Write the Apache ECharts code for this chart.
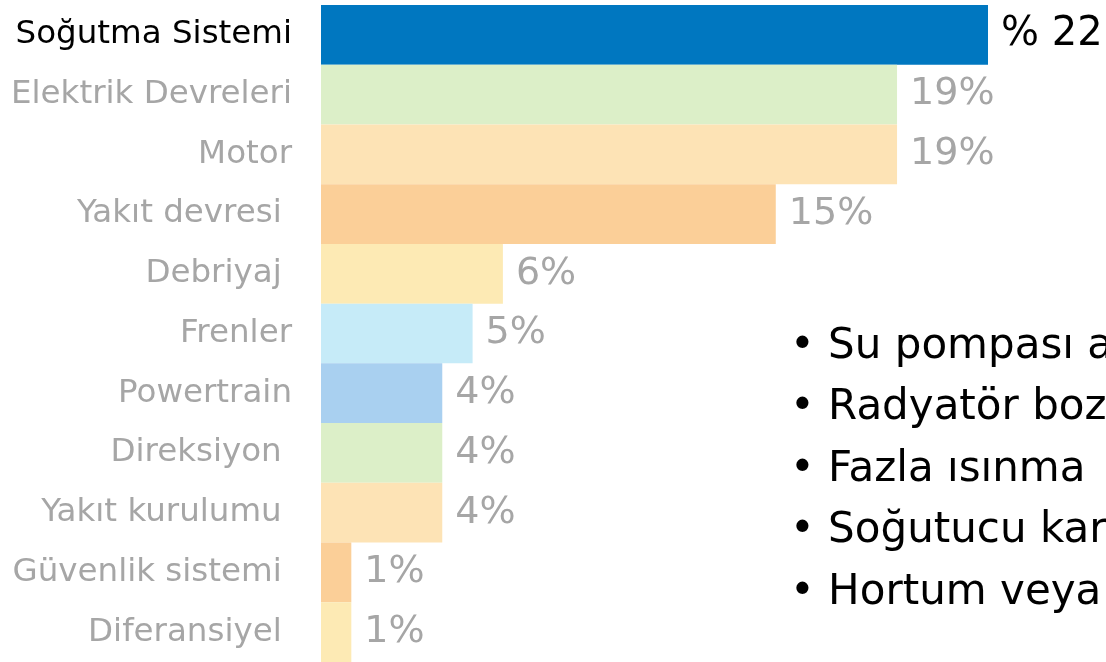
<!DOCTYPE html>
<html lang="tr">
	<head>
		<meta charset="UTF-8">
		<title>Arıza dağılımı</title>
		<style>
			html, body { margin: 0; padding: 0; background: #fff; }
			#chart { width: 1106px; height: 662px; }
		</style>
		<script src="https://cdn.jsdelivr.net/npm/echarts@6/dist/echarts.min.js"></script>
	</head>
	<body>
		<div id="chart"></div>
		<script>
			// kategoriler (ustten alta)
			var categories = ['Soğutma Sistemi', 'Elektrik Devreleri', 'Motor', 'Yakıt devresi ', 'Debriyaj ',
				'Frenler', 'Powertrain', 'Direksiyon ', 'Yakıt kurulumu ', 'Güvenlik sistemi ', 'Diferansiyel '];
			// yuzdeler
			var values = [22, 19, 19, 15, 6, 5, 4, 4, 4, 1, 1];
			var barColors = ['#0077c0', '#dcefc8', '#fde3b5', '#fbcf98', '#fdeab4',
				'#c6ebf8', '#a9d0f0', '#dcefc8', '#fde3b5', '#fbcf98', '#fdeab4'];
			var bullets = ['Su pompası a', 'Radyatör boz', 'Fazla ısınma', 'Soğutucu kar', 'Hortum veya'];

			var chart = echarts.init(document.getElementById('chart'));

			var data = values.map(function (v, i) {
				return { value: v, itemStyle: { color: barColors[i] } };
			});

			var option = {
				animation: false,
				textStyle: { fontFamily: 'DejaVu Sans' },
				grid: { left: 321, right: 118, top: 5, bottom: 0, containLabel: false },
				xAxis: { type: 'value', min: 0, max: 22, show: false },
				yAxis: {
					type: 'category',
					inverse: true,
					data: categories,
					axisLine: { show: false },
					axisTick: { show: false },
					axisLabel: {
						margin: 29,
						formatter: function (v, i) {
							return i === 0 ? '{a|' + v + '}' : '{b|' + v + '}';
						},
						rich: {
							a: { fontSize: 32.5, color: '#000', fontFamily: 'DejaVu Sans' },
							b: { fontSize: 32.5, color: '#a6a6a6', fontFamily: 'DejaVu Sans' }
						}
					}
				},
				series: [{
					type: 'bar',
					data: data,
					barCategoryGap: 0,
					label: {
						show: true,
						position: 'right',
						distance: 13,
						formatter: function (p) {
							return p.dataIndex === 0 ? '{a|% ' + p.value + '}' : '{b|' + p.value + '%}';
						},
						rich: {
							a: { fontSize: 40, color: '#000', fontFamily: 'DejaVu Sans' },
							b: { fontSize: 38, color: '#a6a6a6', fontFamily: 'DejaVu Sans' }
						}
					}
				}],
				graphic: bullets.map(function (t, i) {
					return {
						type: 'text',
						x: 790,
						y: 347 + i * 61.5,
						style: {
							text: '• ' + t, fontSize: 42, fill: '#000', fontFamily: 'DejaVu Sans',
							verticalAlign: 'middle'
						}
					};
				})
			};

			chart.setOption(option);
		</script>
	</body>
</html>
